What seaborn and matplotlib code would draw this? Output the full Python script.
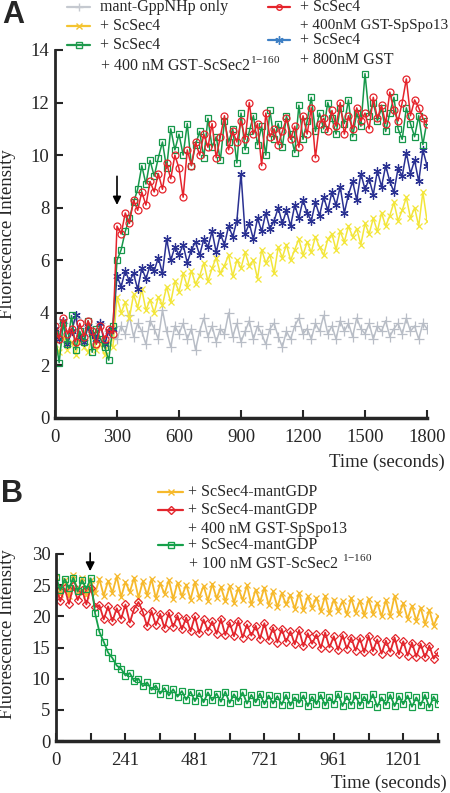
import numpy as np
import pandas as pd
import matplotlib
matplotlib.use("Agg")
import matplotlib.pyplot as plt
from matplotlib.lines import Line2D
import seaborn as sns

sns.set_style("ticks")
plt.rcParams['font.family'] = ['Liberation Serif', 'DejaVu Serif']

# ---------------- panel A data (one point every 20 s, 0-1800 s) ----------------
step_a = 20
grey_a = [3.4, 3.0, 3.6, 2.9, 3.3, 3.8, 3.1, 2.8, 3.5, 3.2, 3.0, 3.6, 2.9, 3.3, 3.1,
          3.0, 3.5, 3.2, 3.9, 3.1, 3.6, 3.3, 2.8, 3.7, 3.4,
          3.0, 4.1, 3.3, 2.7, 3.5, 3.2, 3.6, 3.0, 3.4, 2.6,
          3.3, 3.8, 3.1, 3.5, 2.9, 3.4, 3.2, 4.0, 3.1, 3.6,
          2.9, 3.3, 3.7, 3.0, 3.5, 3.2, 2.8, 3.4, 3.6, 3.1,
          2.7, 3.3, 3.0, 3.5, 3.8, 3.2, 3.4, 3.0, 3.6, 3.3,
          3.9, 3.2, 3.5, 3.0, 3.7, 3.3, 3.6, 3.1, 3.8, 3.4,
          3.2, 3.6, 3.0, 3.5, 3.3, 3.7, 3.1, 3.4, 3.6, 3.2,
          3.8, 3.3, 3.5, 3.0, 3.6, 3.4]
yellow_a = [2.8, 2.5, 3.1, 2.6, 2.9, 2.4, 3.0, 2.7, 2.5, 3.2, 2.6, 2.8, 2.4, 2.9, 2.7,
            4.6, 4.0, 4.4, 3.8, 4.7, 4.2, 4.9, 4.1, 4.5, 4.0,
            4.6, 4.3, 5.0, 4.4, 5.2, 4.8, 5.5, 5.0, 5.6, 5.1,
            5.4, 5.9, 5.2, 5.7, 6.1, 5.5, 5.8, 6.2, 5.4, 6.0,
            5.7, 6.3, 5.8, 6.0, 5.3, 6.4, 5.9, 6.2, 5.5, 6.5,
            6.1, 6.6, 6.0, 6.4, 6.8, 6.2, 6.7, 6.3, 6.9, 6.5,
            6.2, 6.8, 7.0, 6.4, 7.1, 6.7, 7.3, 6.9, 7.2, 6.6,
            7.4, 7.0, 7.6, 7.1, 7.8, 7.3, 7.7, 8.2, 7.5, 7.9,
            8.4, 7.6, 8.0, 7.3, 8.6, 7.5]
blue_a = [3.4, 3.0, 3.7, 2.8, 3.3, 3.9, 3.1, 2.9, 3.5, 3.2, 3.0, 3.6, 2.8, 3.3, 3.4,
          5.4, 5.0, 5.6, 5.2, 5.5, 4.9, 5.7, 5.3, 5.8, 5.6,
          6.1, 5.5, 6.8, 6.0, 6.5, 6.2, 6.6, 5.9, 6.4, 6.7,
          6.2, 6.8, 6.5, 7.1, 6.3, 7.0, 6.6, 7.3, 6.9, 7.5,
          9.3, 7.0, 7.4, 6.8, 7.6, 7.1, 7.8, 7.2, 7.5, 8.0,
          7.4, 7.9, 7.3, 8.1, 7.6, 8.3, 7.8, 7.5, 8.2, 7.7,
          8.4, 7.9, 8.6, 8.1, 8.8, 7.8, 8.5, 9.0, 8.3, 9.3,
          8.7, 9.1, 8.5, 9.4, 8.8, 9.6, 9.0, 8.6, 9.5, 9.2,
          10.1, 9.3, 9.8, 9.0, 10.2, 9.6]
green_a = [3.2, 2.1, 3.6, 2.8, 3.9, 2.6, 3.3, 2.9, 3.7, 2.5, 3.4, 3.0, 2.7, 2.2, 3.5,
           6.0, 6.4, 7.1, 7.6, 8.2, 8.7, 9.6, 8.9, 9.8, 9.2,
           9.9, 10.5, 9.5, 11.0, 10.2, 10.8, 10.0, 11.2, 9.6, 10.4,
           10.9, 9.9, 11.4, 10.3, 10.7, 9.8, 11.3, 10.5, 11.0, 9.7,
           11.6, 10.2, 10.9, 11.5, 10.4, 11.1, 10.0, 11.7, 10.6, 11.2,
           10.3, 11.5, 10.8, 10.1, 11.9, 10.6, 11.3, 12.2, 10.9, 11.6,
           11.0, 12.0, 11.4, 10.8, 11.8, 11.2, 12.1, 10.7, 11.6, 11.1,
           13.1, 11.5, 12.0, 11.3, 11.8, 10.9, 11.6, 12.2, 11.0, 10.6,
           11.8, 11.2, 10.7, 11.5, 10.4, 11.3]
red_a = [3.5, 3.0, 3.8, 3.2, 3.4, 2.9, 3.6, 3.1, 3.7, 3.3, 2.8, 3.5, 3.0, 3.4, 3.2,
         7.3, 7.0, 7.8, 7.4, 8.3, 7.9, 8.6, 8.1, 9.0, 8.6,
         9.3, 8.7, 9.7, 9.1, 10.0, 9.5, 8.4, 10.2, 9.6, 10.5,
         10.0, 10.8, 10.3, 11.2, 9.9, 10.7, 11.5, 10.2, 10.9, 10.5,
         11.3, 10.6, 12.0, 10.8, 11.2, 9.6, 11.6, 10.7, 11.0, 10.4,
         10.9, 11.4, 10.6, 11.1, 10.3, 11.5, 10.8, 11.8, 9.9, 11.2,
         11.4, 10.9, 11.7, 11.1, 12.0, 10.8, 11.5, 11.0, 11.8, 11.3,
         11.6, 11.0, 12.2, 11.4, 11.9, 11.2, 12.4, 11.7, 11.3, 12.0,
         12.9, 11.5, 12.1, 11.8, 11.4, 11.2]

# ---------------- panel B data (one point every 15 s, 0-1320 s) ----------------
step_b = 15
yellow_b = [26.3, 23.6, 25.9, 23.2, 26.6, 23.9, 26.1, 23.4, 25.8, 23.7,
            26.0, 23.3, 25.7, 23.8, 26.4, 23.1, 25.5, 23.9, 26.2, 23.0,
            25.6, 23.4, 26.0, 22.9, 25.3, 23.6, 25.8, 22.8, 25.4, 23.2,
            25.1, 22.7, 25.5, 23.0, 24.9, 22.5, 25.2, 22.9, 24.7, 22.4,
            24.8, 22.2, 24.5, 22.6, 25.0, 21.9, 24.3, 22.3, 24.6, 21.8,
            24.0, 21.5, 23.7, 21.9, 23.4, 21.2, 23.8, 21.0, 23.2, 21.4,
            23.0, 20.8, 23.3, 20.5, 22.7, 20.9, 22.4, 20.3, 22.9, 20.6,
            22.5, 20.2, 22.8, 20.4, 22.2, 20.0, 22.6, 20.1, 23.3, 20.3,
            22.1, 19.6, 21.7, 19.3, 21.4, 18.8, 21.0, 18.5, 20.1]
red_b = [24.8, 22.4, 24.5, 22.0, 24.9, 22.6, 24.3, 21.9, 24.6, 21.5,
         21.8, 19.5, 21.6, 19.2, 21.3, 19.6, 21.9, 19.0, 21.2, 22.3,
         20.7, 18.4, 20.9, 18.6, 20.4, 18.1, 20.6, 18.3, 20.1, 17.9,
         19.8, 17.6, 20.0, 17.3, 19.5, 17.7, 19.2, 17.2, 19.6, 17.0,
         19.0, 16.8, 19.3, 16.6, 18.7, 16.9, 18.5, 16.4, 18.9, 16.2,
         18.2, 15.8, 18.0, 15.9, 17.6, 15.5, 17.8, 15.2, 17.3, 15.6,
         17.1, 14.9, 17.4, 15.0, 16.8, 14.6, 17.0, 14.8, 16.6, 14.5,
         16.5, 14.2, 16.9, 14.4, 16.3, 14.0, 16.1, 14.3, 16.6, 13.9,
         16.0, 13.7, 15.8, 13.5, 15.6, 13.4, 15.3, 13.2, 14.2]
green_b = [26.3, 24.2, 26.0, 24.5, 26.2, 24.0, 25.8, 24.4, 26.1, 20.5,
           17.5, 15.9, 14.2, 13.3, 12.1, 11.6, 10.5, 10.9, 9.6, 10.0,
           8.8, 9.4, 8.2, 8.9, 7.6, 8.5, 7.3, 8.3, 7.1, 8.0,
           6.6, 7.9, 6.4, 7.7, 6.2, 7.8, 6.5, 7.6, 6.3, 7.9,
           6.1, 7.5, 6.4, 7.8, 6.0, 7.4, 6.2, 7.6, 5.9, 7.3,
           6.0, 7.2, 5.8, 7.4, 5.7, 7.0, 6.1, 7.3, 5.6, 7.1,
           5.9, 7.4, 5.7, 7.0, 6.0, 7.6, 5.6, 7.2, 5.8, 7.3,
           5.7, 7.1, 6.0, 7.5, 5.5, 7.0, 5.8, 7.4, 5.6, 7.2,
           5.9, 7.3, 5.5, 7.0, 5.7, 7.4, 5.4, 7.1, 6.0]

xticks_a = [0, 300, 600, 900, 1200, 1500, 1800]
yticks_a = [0, 2, 4, 6, 8, 10, 12, 14]
xticks_b = [0, 120, 240, 360, 480, 600, 720, 840, 960, 1080, 1200, 1320]
xticklabels_b = ["0", "", "241", "", "481", "", "721", "", "961", "", "1201", ""]
yticks_b = [0, 5, 10, 15, 20, 25, 30]

W, H = 450, 793
fig = plt.figure(figsize=(W / 100, H / 100), dpi=100)
axA = fig.add_axes([55 / W, 1 - 418 / H, 372 / W, 368 / H])
axB = fig.add_axes([56 / W, 1 - 741 / H, 382 / W, 187 / H])


def draw(ax, values, step, color, marker, ms=5, lw=1.1, mew=0.9):
    df = pd.DataFrame({"t": np.arange(len(values)) * step, "f": values})
    sns.lineplot(data=df, x="t", y="f", ax=ax, color=color, marker=marker,
                 markersize=ms, markerfacecolor="none", markeredgecolor=color,
                 markeredgewidth=mew, linewidth=lw, estimator=None)


# panel A series
draw(axA, grey_a, step_a, "#b8bdc6", "+", ms=7)
draw(axA, yellow_a, step_a, "#f3e63a", "x", ms=5)
draw(axA, blue_a, step_a, "#2a3192", (6, 2, 0), ms=6)
draw(axA, green_a, step_a, "#16974a", "s", ms=5)
draw(axA, red_a, step_a, "#e5232b", "o", ms=5)

# panel B series
draw(axB, yellow_b, step_b, "#f6b92b", "x", ms=4.5, lw=1.3)
draw(axB, red_b, step_b, "#e3262d", "D", ms=4, lw=1.3)
draw(axB, green_b, step_b, "#15a04a", "s", ms=4, lw=1.3)

for ax in (axA, axB):
    sns.despine(ax=ax)
    ax.spines["left"].set_linewidth(2)
    ax.spines["bottom"].set_linewidth(2.5)
    ax.tick_params(direction="in", length=6, width=1.5, labelsize=13.5)
    ax.tick_params(axis="x", pad=8)
    ax.tick_params(axis="y", pad=4)
    ax.set_ylabel("Fluorescence Intensity", fontsize=13.5)
    ax.set_xlabel("Time (seconds)", fontsize=13.5, ha="right")

axA.set_xlim(0, 1800)
axA.set_ylim(0, 14)
axA.set_xticks(xticks_a)
axA.set_yticks(yticks_a)
axA.xaxis.set_label_coords(1.048, -0.098)
axA.yaxis.set_label_coords(-0.105, 0.5)

axB.set_xlim(0, 1320)
axB.set_ylim(0, 30)
axB.set_xticks(xticks_b)
axB.set_xticklabels(xticklabels_b)
axB.set_yticks(yticks_b)
axB.xaxis.set_label_coords(1.024, -0.18)
axB.yaxis.set_label_coords(-0.104, 0.57)

# arrows marking the addition
axA.annotate("", xy=(300, 8.0), xytext=(300, 9.3),
             arrowprops=dict(arrowstyle="-|>", color="black", lw=1.2, mutation_scale=12))
axB.annotate("", xy=(118, 26.8), xytext=(118, 30.6),
             arrowprops=dict(arrowstyle="-|>", color="black", lw=1.2, mutation_scale=13),
             annotation_clip=False)

# panel letters
fig.text(2 / W, 1 - 15 / H, "A", fontsize=22, fontweight="bold",
         family="Liberation Sans", va="center")
fig.text(1 / W, 1 - 494 / H, "B", fontsize=22, fontweight="bold",
         family="Liberation Sans", va="center")


def entry(x0, x1, y, color, marker, ms=5):
    fy = 1 - y / H
    fig.add_artist(Line2D([x0 / W, (x0 + x1) / 2 / W, x1 / W], [fy, fy, fy],
                          color=color, lw=1.6, marker=marker, markevery=[1],
                          markersize=ms, markerfacecolor="none",
                          markeredgecolor=color, markeredgewidth=1))


def label(x, y, text, size=11.5):
    fig.text(x / W, 1 - y / H, text, fontsize=size, va="center", ha="left")


# legend panel A
entry(67, 90, 7, "#c5c9d0", "+", 6)
entry(67, 90, 26, "#f4c430", "x", 5)
entry(67, 90, 45, "#1f9a4d", "s", 4)
label(100, 7, "mant-GppNHp only")
label(100, 26, "+ ScSec4")
label(100, 45, "+ ScSec4")
label(100, 65, "+ 400 nM GST-ScSec2$^{\\mathregular{1{-}160}}$")
entry(268, 290, 7, "#e5232b", "o", 4)
entry(268, 290, 40, "#3d7fc4", (6, 2, 0), 6)
label(300, 7, "+ ScSec4")
label(300, 26, "+ 400nM GST-SpSpo13", size=11)
label(300, 40, "+ ScSec4")
label(300, 60, "+ 800nM GST")

# legend panel B
entry(158, 183, 492, "#f6b92b", "x", 5)
entry(158, 183, 510, "#e3262d", "D", 4)
entry(158, 183, 545, "#15a04a", "s", 4)
label(188, 492, "+ ScSec4-mantGDP")
label(188, 510, "+ ScSec4-mantGDP")
label(188, 529, "+ 400 nM GST-SpSpo13")
label(188, 545, "+ ScSec4-mantGDP")
label(188, 563, "+ 100 nM GST-ScSec2 $^{\\mathregular{1{-}160}}$")

fig.savefig("out.png", dpi=100)
